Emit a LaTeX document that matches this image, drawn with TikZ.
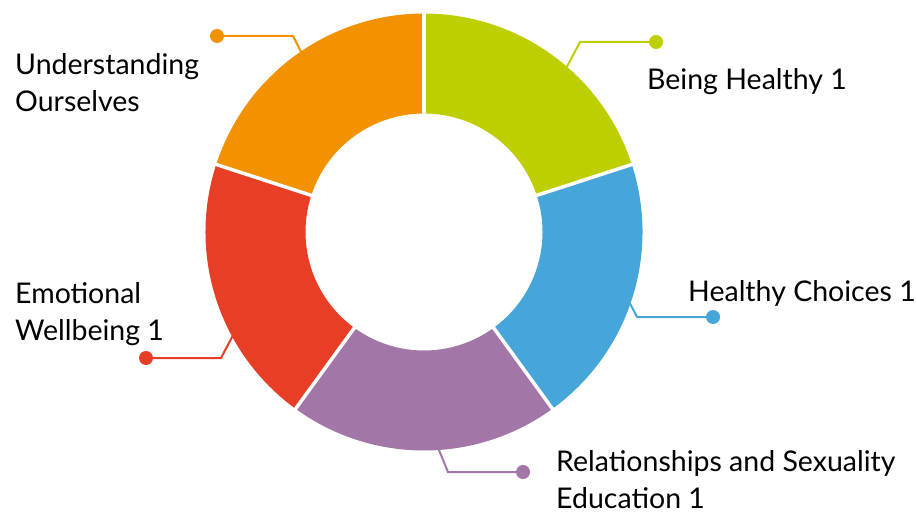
\documentclass[tikz,border=0pt]{standalone}
\usepackage{fontspec}
\setmainfont{Lato}
\usetikzlibrary{positioning}
\definecolor{healthgreen}{RGB}{189,207,0}
\definecolor{choiceblue}{RGB}{71,166,217}
\definecolor{relpurple}{RGB}{162,119,168}
\definecolor{emored}{RGB}{232,62,38}
\definecolor{selforange}{RGB}{243,146,0}
\newcommand{\outerR}{218.5}
\newcommand{\innerR}{118.5}
\tikzset{x=1pt, y=1pt,
leader/.style={ % Thin line from segment to dot
line width=2pt},
dot/.style={ % Round end of each leader
circle, inner sep=0pt, minimum size=14pt},
caption/.style={ % Segment names, placed by the baseline of the last line
font=\fontsize{28.5}{37}\selectfont, anchor=base west,
align=left, inner sep=0pt, text=black},
gap/.style={draw=white, line width=3.5pt}}

\begin{document}
\begin{tikzpicture}
\useasboundingbox (0,0) rectangle (917,512);
\begin{scope}[shift={(424,280)}]
\coordinate (ctr) at (0,0);
\fill[healthgreen] (90:\outerR) arc[start angle=90, end angle=18, radius=\outerR] -- (18:\innerR) arc[start angle=18, end angle=90, radius=\innerR] -- cycle;
\fill[choiceblue] (18:\outerR) arc[start angle=18, end angle=-54, radius=\outerR] -- (-54:\innerR) arc[start angle=-54, end angle=18, radius=\innerR] -- cycle;
\fill[relpurple] (-54:\outerR) arc[start angle=-54, end angle=-126, radius=\outerR] -- (-126:\innerR) arc[start angle=-126, end angle=-54, radius=\innerR] -- cycle;
\fill[emored] (-126:\outerR) arc[start angle=-126, end angle=-198, radius=\outerR] -- (-198:\innerR) arc[start angle=-198, end angle=-126, radius=\innerR] -- cycle;
\fill[selforange] (162:\outerR) arc[start angle=162, end angle=90, radius=\outerR] -- (90:\innerR) arc[start angle=90, end angle=162, radius=\innerR] -- cycle;
% white gaps between segments
\draw[gap] (90:110) -- (90:225);
\draw[gap] (18:110) -- (18:225);
\draw[gap] (-54:110) -- (-54:225);
\draw[gap] (-126:110) -- (-126:225);
\draw[gap] (162:110) -- (162:225);
% where the leaders leave the ring
\coordinate (greenfoot) at (49:216);
\coordinate (bluefoot) at (-18.6:216);
\coordinate (purplefoot) at (-86.3:216);
\coordinate (redfoot) at (208.2:216);
\coordinate (orangefoot) at (124.4:216);
\end{scope}

\coordinate (greenbend) at (580,470);
\coordinate (bluebend) at (637,195);
\coordinate (purplebend) at (448,40);
\coordinate (redbend) at (221,154);
\coordinate (orangebend) at (293,476);

\node[dot, fill=healthgreen] (greendot) at (656,470) {};
\node[dot, fill=choiceblue] (bluedot) at (713,195) {};
\node[dot, fill=relpurple] (purpledot) at (523,40) {};
\node[dot, fill=emored] (reddot) at (146,154) {};
\node[dot, fill=selforange] (orangedot) at (217,476) {};

\draw[leader, healthgreen] (greenfoot) -- (greenbend) -- (greendot);
\draw[leader, choiceblue] (bluefoot) -- (bluebend) -- (bluedot);
\draw[leader, relpurple] (purplefoot) -- (purplebend) -- (purpledot);
\draw[leader, emored] (redfoot) -- (redbend) -- (reddot);
\draw[leader, selforange] (orangefoot) -- (orangebend) -- (orangedot);

\node[caption] (healthy) at (647,422) {Being Healthy 1};
\node[caption] (choices) at (688,211) {Healthy Choices 1};
\node[caption] (rse) at (556,4) {Relationships and Sexuality\\Education 1};
\node[caption] (wellbeing) at (15,172) {Emotional\\Wellbeing 1};
\node[caption] (ourselves) at (15,400) {Understanding\\Ourselves};
\end{tikzpicture}
\end{document}
